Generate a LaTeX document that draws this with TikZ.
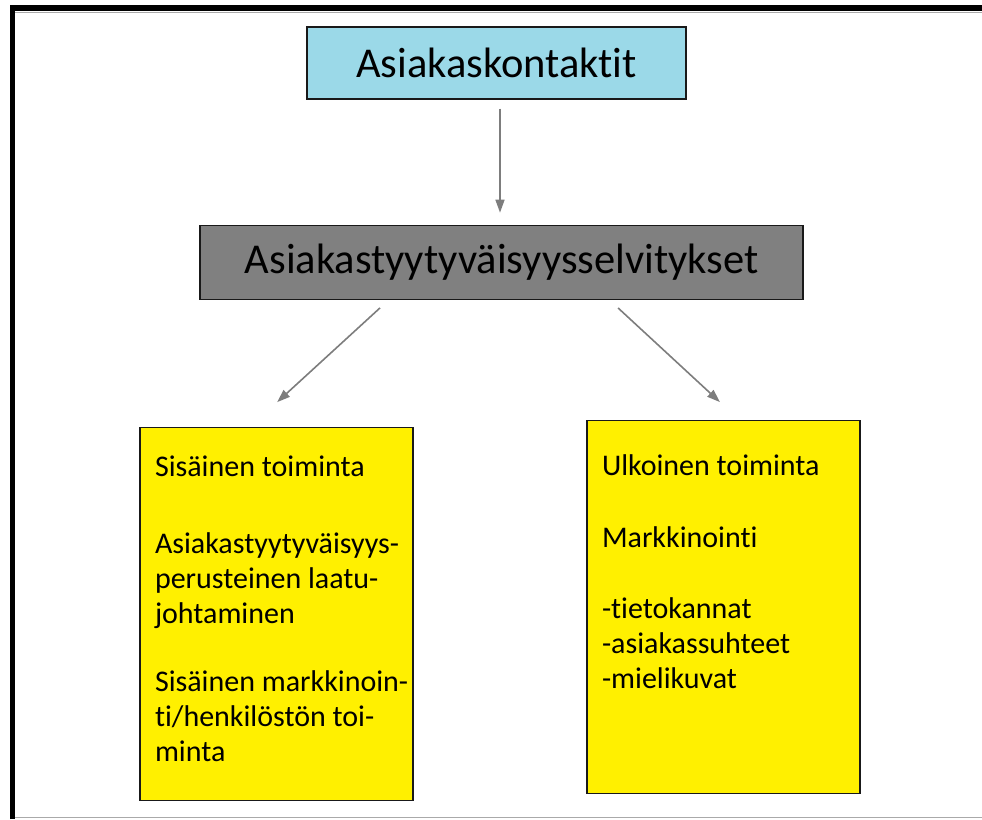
\documentclass[tikz,border=0pt]{standalone}
\usepackage{fontspec}
\setmainfont{Carlito}[Ligatures=NoCommon]
\usepackage{xcolor}
\usepackage{tikz}
\usetikzlibrary{arrows.meta, positioning}
\definecolor{contactFill}{RGB}{155,217,232}
\definecolor{surveyFill}{RGB}{128,128,128}
\definecolor{actionFill}{RGB}{255,240,0}
\definecolor{ink}{RGB}{25,25,25}
\definecolor{arrowLine}{RGB}{125,125,125}
\definecolor{frameShade}{RGB}{170,170,170}
\tikzset{
  headbox/.style={
    draw=ink,
    line width=1.3pt,
    align=center,
    inner sep=0pt,
    font=\fontsize{42.5}{50}\selectfont
  },
  contactNode/.style={headbox, fill=contactFill},
  surveyNode/.style={headbox, fill=surveyFill},
  actionNode/.style={
    draw=ink,
    line width=1.3pt,
    fill=actionFill,
    anchor=north,
    inner sep=0pt,
    minimum width=273pt,
    minimum height=373pt,
    font=\fontsize{30}{35}\selectfont
  },
  flow/.style={-{Triangle[length=13pt,width=9pt]}, line width=1.6pt, draw=arrowLine},
  frame/.style={line width=5.5pt, draw=black}
}

\begin{document}
\begin{tikzpicture}[x=1pt, y=-1pt]
  \useasboundingbox (0,0) rectangle (982,819);
  \draw[frameShade, line width=1pt] (15,817) -- (982,817);
  \draw[frameShade, line width=1pt] (15,12.5) -- (982,12.5);
  \draw[frame] (12.5,819) |- (982,8);

  \node[contactNode, minimum width=379pt, minimum height=72pt] (contacts) at (496.5,63) {Asiakaskontaktit};
  \node[surveyNode, below=125pt of contacts, minimum width=603pt, minimum height=74pt, xshift=5pt] (surveys) {Asiakastyytyväisyysselvitykset};

  \node[actionNode] (inner) at (276.5,427) {\parbox[c][345pt][t]{243pt}{%
    \vspace*{14.5pt}
    \mbox{Sisäinen toiminta}\\[42pt]
    \mbox{Asiakastyytyväisyys-}\\
    \mbox{perusteinen laatu-}\\
    \mbox{johtaminen}\\[33pt]
    \mbox{Sisäinen markkinoin-}\\
    \mbox{ti/henkilöstön toi-}\\
    \mbox{minta}}};
  \node[actionNode] (outer) at (723.5,420) {\parbox[c][345pt][t]{243pt}{%
    \vspace*{20.5pt}
    \mbox{Ulkoinen toiminta}\\[37pt]
    \mbox{Markkinointi}\\[36pt]
    \mbox{-tietokannat}\\
    \mbox{-asiakassuhteet}\\
    \mbox{-mielikuvat}}};

  \draw[flow, shorten <=9pt, shorten >=12pt] ([xshift=3.5pt]contacts.south) -- ([xshift=-1.5pt]surveys.north);
  \draw[flow, shorten <=11.8pt, shorten >=36.8pt] ([xshift=-112.8pt]surveys.south) -- ([xshift=-26.5pt]inner.north);
  \draw[flow, shorten <=11.8pt, shorten >=26.4pt] ([xshift=107.9pt]surveys.south) -- ([xshift=15.8pt]outer.north);
\end{tikzpicture}
\end{document}
